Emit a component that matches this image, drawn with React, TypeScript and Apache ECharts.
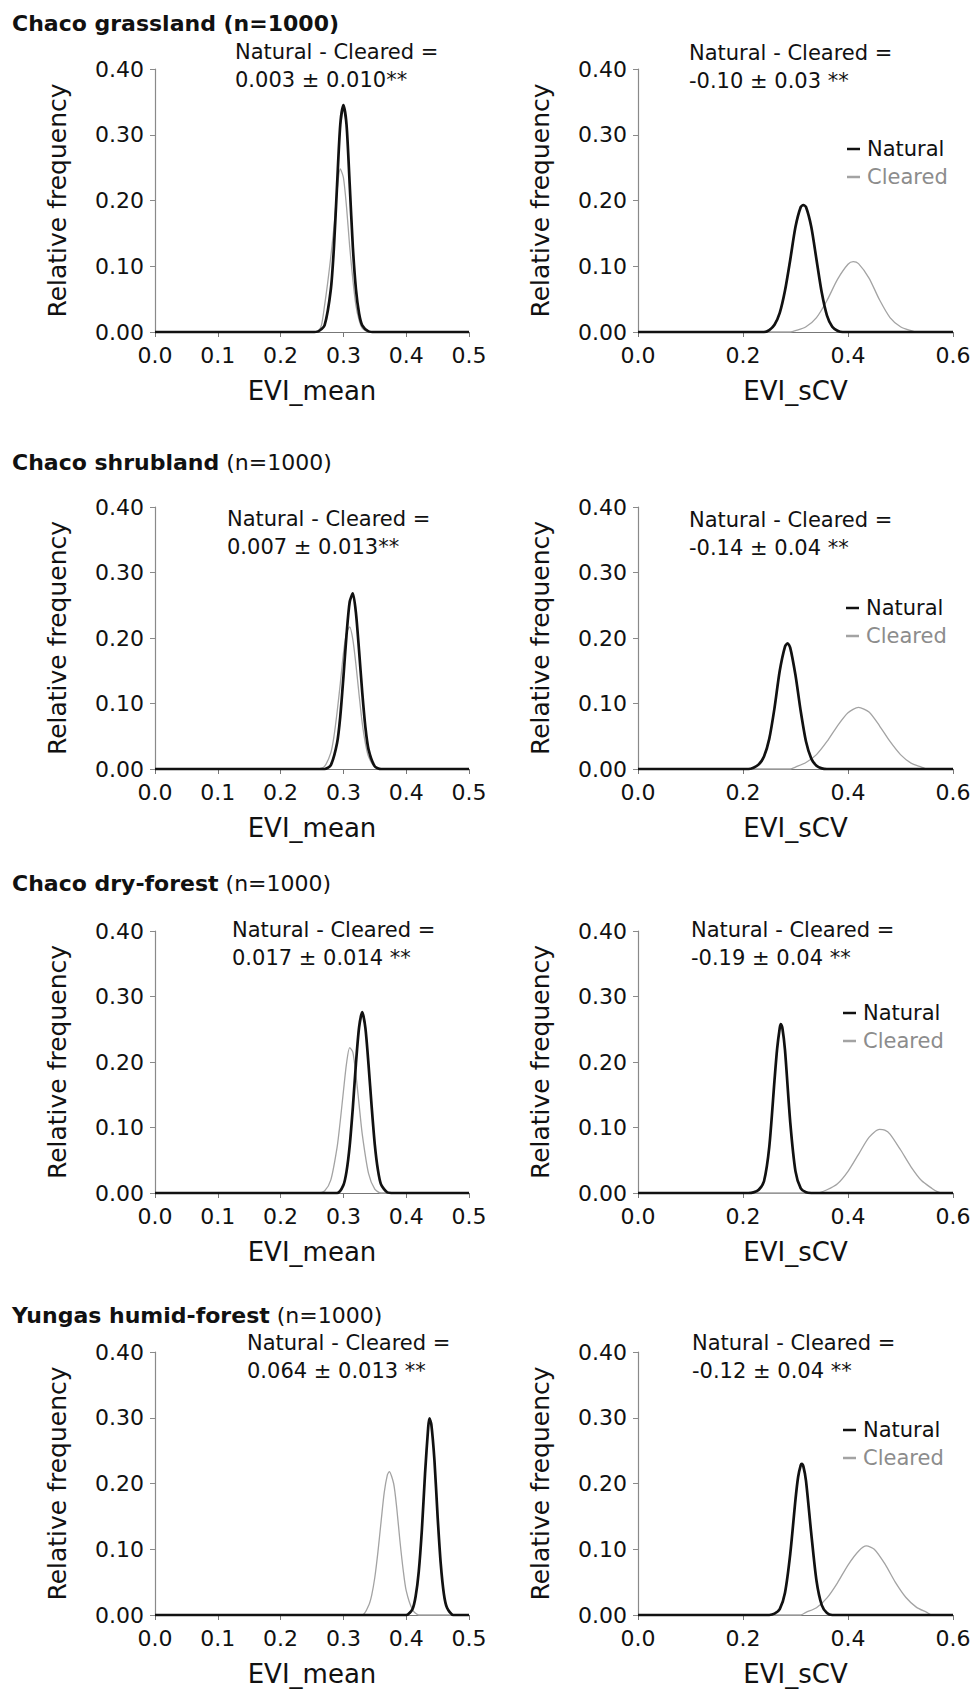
import React, { useEffect, useRef } from "react";
import * as echarts from "echarts";

// ---------- texts ----------
const regionNames = ["Chaco grassland", "Chaco shrubland", "Chaco dry-forest", "Yungas humid-forest"];
const sampleLabel = "(n=1000)";
const diffHeader = "Natural - Cleared =";
const meanDiffs = ["0.003 ± 0.010**", "0.007 ± 0.013**", "0.017 ± 0.014 **", "0.064 ± 0.013 **"];
const cvDiffs = ["-0.10 ± 0.03 **", "-0.14 ± 0.04 **", "-0.19 ± 0.04 **", "-0.12 ± 0.04 **"];
const xNameMean = "EVI_mean";
const xNameCV = "EVI_sCV";
const yName = "Relative frequency";

// ---------- ticks ----------
const yTicks = [0, 0.1, 0.2, 0.3, 0.4];
const meanTicks = [0, 0.1, 0.2, 0.3, 0.4, 0.5];
const cvTicks = [0, 0.2, 0.4, 0.6];

// ---------- curves: [value, relative frequency] ----------
const grasslandMeanNatural = [[0, 0], [0.25, 0], [0.26, 0.001], [0.27, 0.01], [0.28, 0.065], [0.285, 0.13], [0.29, 0.225], [0.295, 0.315], [0.3, 0.345], [0.305, 0.315], [0.31, 0.225], [0.315, 0.13], [0.32, 0.065], [0.325, 0.028], [0.33, 0.01], [0.34, 0.001], [0.35, 0], [0.5, 0]];
const grasslandMeanCleared = [[0, 0], [0.25, 0], [0.26, 0.002], [0.265, 0.01], [0.27, 0.04], [0.275, 0.075], [0.28, 0.115], [0.285, 0.16], [0.29, 0.215], [0.295, 0.248], [0.3, 0.235], [0.305, 0.19], [0.31, 0.13], [0.315, 0.08], [0.32, 0.04], [0.325, 0.018], [0.33, 0.006], [0.34, 0], [0.5, 0]];
const shrublandMeanNatural = [[0, 0], [0.27, 0], [0.28, 0.006], [0.29, 0.04], [0.295, 0.08], [0.3, 0.14], [0.305, 0.205], [0.31, 0.255], [0.315, 0.268], [0.32, 0.238], [0.325, 0.18], [0.33, 0.117], [0.335, 0.064], [0.34, 0.03], [0.35, 0.004], [0.36, 0], [0.5, 0]];
const shrublandMeanCleared = [[0, 0], [0.26, 0], [0.27, 0.004], [0.28, 0.025], [0.285, 0.05], [0.29, 0.087], [0.295, 0.13], [0.3, 0.176], [0.305, 0.208], [0.31, 0.217], [0.315, 0.198], [0.32, 0.159], [0.325, 0.113], [0.33, 0.07], [0.335, 0.039], [0.34, 0.019], [0.35, 0.003], [0.36, 0], [0.5, 0]];
const dryForestMeanNatural = [[0, 0], [0.29, 0], [0.3, 0.012], [0.305, 0.033], [0.31, 0.072], [0.315, 0.13], [0.32, 0.198], [0.325, 0.253], [0.33, 0.276], [0.335, 0.252], [0.34, 0.196], [0.345, 0.132], [0.35, 0.074], [0.355, 0.035], [0.36, 0.013], [0.37, 0.001], [0.38, 0], [0.5, 0]];
const dryForestMeanCleared = [[0, 0], [0.26, 0], [0.27, 0.003], [0.28, 0.02], [0.29, 0.07], [0.295, 0.11], [0.3, 0.155], [0.305, 0.198], [0.31, 0.222], [0.315, 0.215], [0.32, 0.18], [0.325, 0.135], [0.33, 0.09], [0.34, 0.03], [0.35, 0.006], [0.36, 0], [0.5, 0]];
const yungasMeanNatural = [[0, 0], [0.4, 0], [0.41, 0.009], [0.415, 0.028], [0.42, 0.066], [0.425, 0.13], [0.43, 0.215], [0.435, 0.285], [0.437, 0.299], [0.44, 0.29], [0.445, 0.235], [0.45, 0.15], [0.455, 0.078], [0.46, 0.032], [0.465, 0.011], [0.475, 0], [0.5, 0]];
const yungasMeanCleared = [[0, 0], [0.33, 0], [0.34, 0.014], [0.345, 0.03], [0.35, 0.057], [0.355, 0.096], [0.36, 0.142], [0.365, 0.186], [0.37, 0.213], [0.373, 0.218], [0.38, 0.2], [0.385, 0.162], [0.39, 0.113], [0.395, 0.07], [0.4, 0.037], [0.41, 0.008], [0.42, 0], [0.5, 0]];

const grasslandCvNatural = [[0, 0], [0.24, 0], [0.25, 0.003], [0.26, 0.011], [0.27, 0.029], [0.28, 0.063], [0.29, 0.11], [0.3, 0.16], [0.31, 0.19], [0.315, 0.193], [0.32, 0.19], [0.33, 0.16], [0.34, 0.11], [0.35, 0.06], [0.36, 0.025], [0.37, 0.008], [0.38, 0.002], [0.39, 0], [0.6, 0]];
const grasslandCvCleared = [[0, 0], [0.29, 0], [0.3, 0.002], [0.32, 0.008], [0.34, 0.022], [0.36, 0.048], [0.38, 0.08], [0.4, 0.103], [0.41, 0.107], [0.42, 0.104], [0.44, 0.082], [0.46, 0.049], [0.48, 0.022], [0.5, 0.008], [0.52, 0.002], [0.53, 0], [0.6, 0]];
const shrublandCvNatural = [[0, 0], [0.21, 0], [0.22, 0.002], [0.23, 0.007], [0.24, 0.019], [0.25, 0.046], [0.26, 0.093], [0.27, 0.15], [0.28, 0.187], [0.285, 0.192], [0.29, 0.185], [0.3, 0.143], [0.31, 0.088], [0.32, 0.042], [0.33, 0.016], [0.34, 0.005], [0.35, 0.001], [0.36, 0], [0.6, 0]];
const shrublandCvCleared = [[0, 0], [0.29, 0], [0.3, 0.003], [0.32, 0.01], [0.34, 0.022], [0.36, 0.042], [0.38, 0.066], [0.4, 0.086], [0.42, 0.094], [0.44, 0.087], [0.46, 0.066], [0.48, 0.042], [0.5, 0.022], [0.52, 0.009], [0.54, 0.003], [0.55, 0], [0.6, 0]];
const dryForestCvNatural = [[0, 0], [0.21, 0], [0.22, 0.001], [0.23, 0.005], [0.24, 0.018], [0.25, 0.07], [0.26, 0.172], [0.265, 0.22], [0.27, 0.252], [0.272, 0.258], [0.275, 0.252], [0.28, 0.218], [0.29, 0.108], [0.3, 0.033], [0.31, 0.007], [0.32, 0.001], [0.33, 0], [0.6, 0]];
const dryForestCvCleared = [[0, 0], [0.34, 0], [0.36, 0.005], [0.38, 0.014], [0.4, 0.033], [0.42, 0.059], [0.44, 0.085], [0.46, 0.097], [0.47, 0.096], [0.48, 0.09], [0.5, 0.066], [0.52, 0.04], [0.54, 0.019], [0.56, 0.007], [0.57, 0.002], [0.58, 0], [0.6, 0]];
const yungasCvNatural = [[0, 0], [0.25, 0], [0.26, 0.002], [0.27, 0.009], [0.28, 0.034], [0.29, 0.093], [0.3, 0.176], [0.305, 0.21], [0.31, 0.228], [0.312, 0.23], [0.315, 0.226], [0.32, 0.204], [0.33, 0.124], [0.34, 0.052], [0.35, 0.015], [0.36, 0.003], [0.37, 0], [0.6, 0]];
const yungasCvCleared = [[0, 0], [0.31, 0], [0.32, 0.004], [0.34, 0.011], [0.36, 0.026], [0.38, 0.049], [0.4, 0.076], [0.42, 0.097], [0.435, 0.105], [0.45, 0.1], [0.47, 0.078], [0.49, 0.05], [0.51, 0.027], [0.53, 0.012], [0.55, 0.004], [0.56, 0], [0.6, 0]];

const meanNatural = [grasslandMeanNatural, shrublandMeanNatural, dryForestMeanNatural, yungasMeanNatural];
const meanCleared = [grasslandMeanCleared, shrublandMeanCleared, dryForestMeanCleared, yungasMeanCleared];
const cvNatural = [grasslandCvNatural, shrublandCvNatural, dryForestCvNatural, yungasCvNatural];
const cvCleared = [grasslandCvCleared, shrublandCvCleared, dryForestCvCleared, yungasCvCleared];

// ---------- layout & style ----------
const FONT = "'DejaVu Sans', sans-serif";
const TEXT = "#111111";
const NATURAL = "#111111";
const CLEARED = "#a3a3a3";
const AXIS = "#777777";
const rowTops = [69, 507, 931, 1352];
const rowHeights = [263, 262, 262, 263];
const colLefts = [155, 638];
const colWidths = [314, 315];
const titleY = [23, 462, 883, 1315];
const noteX = [[235, 689], [227, 689], [232, 691], [247, 692]];
const noteY = [[52, 53], [519, 520], [930, 930], [1343, 1343]];
const legendPos = [[847, 138], [846, 597], [843, 1002], [843, 1419]];

function buildOption() {
  const grid: any[] = [];
  const xAxis: any[] = [];
  const yAxis: any[] = [];
  const series: any[] = [];
  const graphic: any[] = [];
  const legend: any[] = [];

  for (let r = 0; r < 4; r++) {
    for (let c = 0; c < 2; c++) {
      const idx = r * 2 + c;
      const ticks = c === 0 ? meanTicks : cvTicks;
      grid.push({ left: colLefts[c], top: rowTops[r], width: colWidths[c], height: rowHeights[r], containLabel: false });
      xAxis.push({
        type: "value",
        gridIndex: idx,
        min: ticks[0],
        max: ticks[ticks.length - 1],
        interval: ticks[1] - ticks[0],
        name: c === 0 ? xNameMean : xNameCV,
        nameLocation: "middle",
        nameGap: 46,
        nameTextStyle: { fontSize: 26, fontFamily: FONT, color: TEXT },
        axisLine: { show: true, onZero: false, lineStyle: { color: AXIS, width: 1 } },
        axisTick: { show: true, length: 5, lineStyle: { color: AXIS, width: 1 } },
        axisLabel: { fontSize: 22, fontFamily: FONT, color: TEXT, margin: 12, formatter: (v: number) => v.toFixed(1) },
        splitLine: { show: false },
      });
      yAxis.push({
        type: "value",
        gridIndex: idx,
        min: yTicks[0],
        max: yTicks[yTicks.length - 1],
        interval: yTicks[1] - yTicks[0],
        name: yName,
        nameLocation: "middle",
        nameGap: 85,
        nameRotate: 90,
        nameTextStyle: { fontSize: 25, fontFamily: FONT, color: TEXT },
        axisLine: { show: true, onZero: false, lineStyle: { color: "#8a8a8a", width: 1.2 } },
        axisTick: { show: true, length: 5, lineStyle: { color: "#8a8a8a", width: 1 } },
        axisLabel: { fontSize: 22, fontFamily: FONT, color: TEXT, margin: 11, formatter: (v: number) => v.toFixed(2) },
        splitLine: { show: false },
      });
      const cleared = c === 0 ? meanCleared[r] : cvCleared[r];
      const natural = c === 0 ? meanNatural[r] : cvNatural[r];
      series.push({
        type: "line",
        name: "Cleared",
        xAxisIndex: idx,
        yAxisIndex: idx,
        data: cleared,
        symbol: "none",
        showSymbol: false,
        smooth: 0.25,
        clip: false,
        color: CLEARED,
        itemStyle: { color: CLEARED },
        lineStyle: { color: CLEARED, width: 1.3 },
        z: 2,
        silent: true,
      });
      series.push({
        type: "line",
        name: "Natural",
        xAxisIndex: idx,
        yAxisIndex: idx,
        data: natural,
        symbol: "none",
        showSymbol: false,
        smooth: 0.25,
        clip: false,
        color: NATURAL,
        itemStyle: { color: NATURAL },
        lineStyle: { color: NATURAL, width: 2.7 },
        z: 3,
        silent: true,
      });
      graphic.push({
        type: "text",
        x: noteX[r][c],
        y: noteY[r][c] - 14,
        silent: true,
        style: {
          text: diffHeader + "\n" + (c === 0 ? meanDiffs[r] : cvDiffs[r]),
          fontSize: 21,
          fontFamily: FONT,
          fill: TEXT,
          lineHeight: 28,
          verticalAlign: "top",
          align: "left",
        },
      });
    }
    const name = regionNames[r];
    graphic.push({
      type: "text",
      x: 12,
      y: titleY[r],
      silent: true,
      style: {
        text: r === 0 ? `{b|${name} ${sampleLabel}}` : `{b|${name}}{n| ${sampleLabel}}`,
        rich: {
          b: { fontSize: 22, fontWeight: "bold", fontFamily: FONT, fill: TEXT, color: TEXT },
          n: { fontSize: 22, fontWeight: "normal", fontFamily: FONT, fill: TEXT, color: TEXT },
        },
        fill: TEXT,
        verticalAlign: "middle",
        align: "left",
      },
    });
    legend.push({
      left: legendPos[r][0],
      top: legendPos[r][1],
      orient: "vertical",
      icon: "rect",
      itemWidth: 13,
      itemHeight: 2.5,
      itemGap: 6,
      selectedMode: false,
      padding: 0,
      textStyle: { fontSize: 21, fontFamily: FONT, lineHeight: 22, padding: [0, 0, 0, 2] },
      data: [
        { name: "Natural", textStyle: { color: TEXT } },
        { name: "Cleared", textStyle: { color: "#8c8c8c" } },
      ],
    });
  }

  return { animation: false, backgroundColor: "#ffffff", grid, xAxis, yAxis, series, graphic, legend };
}

export default function App() {
  const ref = useRef<HTMLDivElement>(null);
  useEffect(() => {
    if (!ref.current) return;
    const chart = echarts.init(ref.current, undefined, { renderer: "svg" });
    chart.setOption(buildOption() as any);
    return () => chart.dispose();
  }, []);
  return <div ref={ref} style={{ position: "absolute", left: 0, top: 0, width: 975, height: 1690 }} />;
}
